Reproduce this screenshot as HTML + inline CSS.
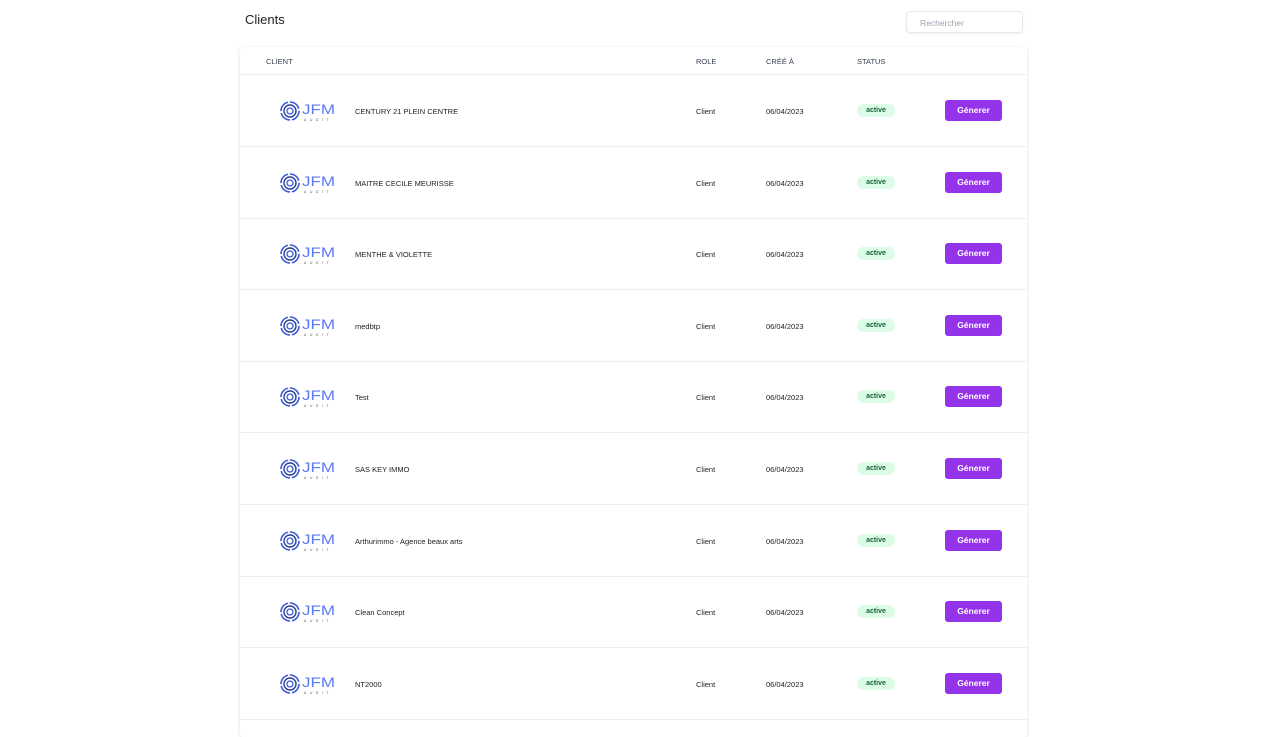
<!DOCTYPE html>
<html><head><meta charset="utf-8"><style>
*{margin:0;padding:0;box-sizing:border-box}
body{width:1280px;height:720px;background:#fff;font-family:"Liberation Sans",sans-serif;position:relative;overflow:hidden;color:#111}
.title{position:absolute;left:245px;top:12px;font-size:13px;color:#222}
.search{position:absolute;left:906px;top:11px;width:117px;height:22px;border:1px solid #e5e7eb;border-radius:4px;box-shadow:0 1px 2px rgba(0,0,0,.06);font-size:8.5px;color:#9ca3af;padding:6px 0 0 13px}
.card{position:absolute;left:240px;top:47px;width:787px;height:690px;background:#fff;box-shadow:0 1px 4px rgba(0,0,0,.12);border-radius:3px}
.hd{position:absolute;top:0;left:0;right:0;height:28px;border-bottom:1px solid #eee;font-size:7.5px;color:#374151}
.hd span,.row span{position:absolute}
.row{position:absolute;left:0;right:0;height:72px;border-bottom:1px solid #eee;font-size:7.5px;color:#222}
.badge{top:29px;left:617px;width:38px;height:13px;background:#dcfce7;color:#166534;border-radius:7px;font-size:7px;font-weight:bold;text-align:center;line-height:13px}
.btn{top:25px;left:705px;width:57px;height:21px;background:#9333ea;color:#fff;border-radius:3px;font-size:8.5px;font-weight:bold;text-align:center;line-height:21px}
.logo{top:24px;left:39px}
</style></head><body>
<div class="title">Clients</div>
<div class="search">Rechercher</div>
<div class="card">
<div class="hd"><span style="left:26px;top:10px">CLIENT</span><span style="left:456px;top:10px">ROLE</span><span style="left:526px;top:10px">CRÉÉ À</span><span style="left:617px;top:10px">STATUS</span></div>
<div id="rows"></div>
</div>
<script>
var names=["CENTURY 21 PLEIN CENTRE","MAITRE CECILE MEURISSE","MENTHE &amp; VIOLETTE","medbtp","Test","SAS KEY IMMO","Arthurimmo - Agence beaux arts","Clean Concept","NT2000"];
var h="";
names.forEach(function(n,i){
var top=28+i*71.6;
h+='<div class="row" style="top:'+top+'px"><span class="logo"><svg width="60" height="24" viewBox="0 0 60 24"><circle cx="11" cy="12" r="9" fill="none" stroke="#3b5bdb" stroke-width="1.6" stroke-dasharray="12 2"/><circle cx="11" cy="12" r="6" fill="none" stroke="#2c3e8f" stroke-width="1.4"/><circle cx="11" cy="12" r="3" fill="none" stroke="#3b5bdb" stroke-width="1.3"/><text x="23" y="15" font-family="Liberation Sans" font-size="14" fill="#5b7cf0" textLength="33" lengthAdjust="spacingAndGlyphs">JFM</text><text x="25" y="22" font-family="Liberation Sans" font-size="3.5" fill="#555" letter-spacing="3.5">AUDIT</text></svg></span>'+
'<span style="left:115px;top:32px">'+n+'</span><span style="left:456px;top:32px">Client</span><span style="left:526px;top:32px">06/04/2023</span><span class="badge">active</span><span class="btn">Génerer</span></div>';
});
document.getElementById("rows").innerHTML=h;
</script>
</body></html>
